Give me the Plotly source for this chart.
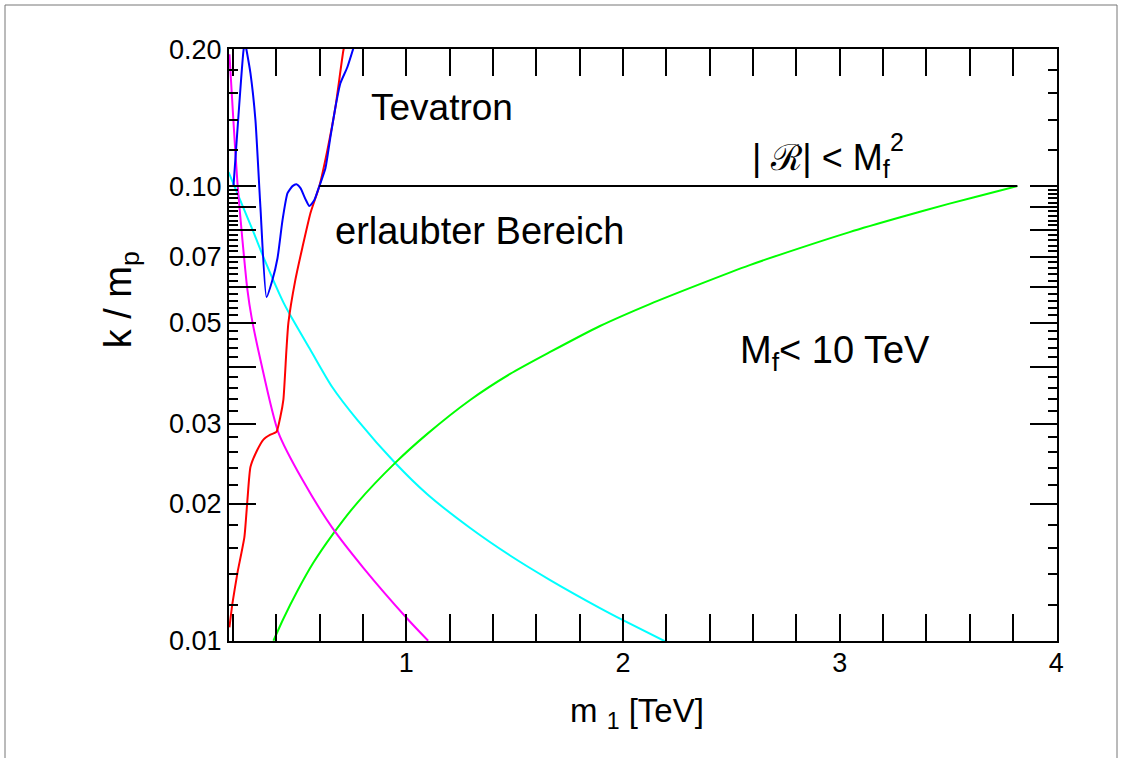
import numpy as np
import plotly.graph_objects as go

# ---------------- data ----------------
cyan_x = [0.18, 0.295, 0.341, 0.433, 0.465, 0.558, 0.659, 0.774, 0.949, 1.097, 1.295, 1.479, 1.664, 1.894, 2.0, 2.198]
cyan_y = [0.1073, 0.0792, 0.0698, 0.0555, 0.0520, 0.0436, 0.0361, 0.0306, 0.0246, 0.0210, 0.0177, 0.0154, 0.0136, 0.0118, 0.0111, 0.00995]

green_x = [0.387, 0.433, 0.498, 0.571, 0.659, 0.774, 0.949, 1.097, 1.295, 1.479, 1.664, 1.894, 2.124, 2.355, 2.585, 2.816, 3.046, 3.276, 3.507, 3.737, 3.82]
green_y = [0.0100, 0.01118, 0.01288, 0.01484, 0.01710, 0.02011, 0.02462, 0.02851, 0.03385, 0.03862, 0.04317, 0.04924, 0.05503, 0.06088, 0.06704, 0.07306, 0.07923, 0.08527, 0.09151, 0.09765, 0.1000]

magenta_x = [0.184, 0.203, 0.221, 0.244, 0.267, 0.286, 0.327, 0.410, 0.521, 0.659, 0.802, 1.005, 1.101]
magenta_y = [0.195, 0.1376, 0.1015, 0.0761, 0.0591, 0.0515, 0.0415, 0.0287, 0.02259, 0.01771, 0.01447, 0.01118, 0.0100]

red_x = [0.184, 0.198, 0.221, 0.253, 0.267, 0.281, 0.313, 0.341, 0.373, 0.401, 0.419, 0.433, 0.447, 0.456, 0.488, 0.521, 0.558, 0.599, 0.636, 0.673, 0.710, 0.719]
red_y = [0.0107, 0.0121, 0.0141, 0.0169, 0.0204, 0.0241, 0.0263, 0.0277, 0.0284, 0.0288, 0.0311, 0.0339, 0.0436, 0.0500, 0.0621, 0.0734, 0.0873, 0.1000, 0.1200, 0.1491, 0.199, 0.207]

blue_x = [0.203, 0.249, 0.256, 0.263, 0.281, 0.304, 0.327, 0.355, 0.382, 0.406, 0.429, 0.452, 0.475, 0.493, 0.512, 0.535, 0.553, 0.576, 0.599, 0.627, 0.650, 0.673, 0.696, 0.728, 0.756]
blue_y = [0.1005, 0.199, 0.207, 0.199, 0.1772, 0.1397, 0.0899, 0.0570, 0.0621, 0.0695, 0.0842, 0.0965, 0.1000, 0.1010, 0.0990, 0.0936, 0.0904, 0.0932, 0.1000, 0.1095, 0.1282, 0.1491, 0.1684, 0.1826, 0.2011]

black_x = [0.599, 3.82]
black_y = [0.1, 0.1]

# tick labels
x_major = [1, 2, 3, 4]
y_labeled = [0.01, 0.02, 0.03, 0.05, 0.07, 0.10, 0.20]
y_labeled_text = ["0.01", "0.02", "0.03", "0.05", "0.07", "0.10", "0.20"]
y_long_unlabeled = [0.04, 0.06, 0.08, 0.09]

FONT = "Liberation Sans, Arial, Helvetica, sans-serif"

x_minor = [round(v, 2) for v in np.arange(0.2, 4.0, 0.2) if abs(v - round(v)) > 1e-6]
y_minor = [round(v, 3) for v in np.arange(0.012, 0.1, 0.002) if abs(v * 100 - round(v * 100)) > 1e-6]
y_minor += [0.12, 0.14, 0.16, 0.18]

fig = go.Figure()
for xs, ys, col, sm in [(cyan_x, cyan_y, "#00ffff", 0.7),
                        (green_x, green_y, "#00ff00", 0.7),
                        (magenta_x, magenta_y, "#ff00ff", 0.7),
                        (red_x, red_y, "#ff0000", 0.5),
                        (blue_x, blue_y, "#0000ff", 0.5)]:
    fig.add_trace(go.Scatter(x=xs, y=ys, mode="lines",
                             line=dict(color=col, width=2, shape="spline", smoothing=sm),
                             showlegend=False, hoverinfo="skip"))
fig.add_trace(go.Scatter(x=black_x, y=black_y, mode="lines", yaxis="y2",
                         line=dict(color="#000000", width=2),
                         showlegend=False, hoverinfo="skip"))

yr = [np.log10(0.01) - 0.0006, np.log10(0.2) + 0.0006]
tickstyle = dict(ticks="inside", ticklen=27, tickwidth=1.5, tickcolor="black")
minorstyle = dict(tickmode="array", ticks="inside", ticklen=9, tickwidth=1.5,
                  tickcolor="black", showgrid=False)

fig.update_layout(
    xaxis=dict(range=[0.182, 4.003], showgrid=False, zeroline=False,
               showline=True, linecolor="black", linewidth=2, mirror="allticks",
               tickmode="array", tickvals=x_major, ticktext=[str(v) for v in x_major],
               tickfont=dict(family=FONT, size=27, color="black"), ticklabelstandoff=-3,
               minor=dict(tickvals=x_minor, **minorstyle), **tickstyle),
    yaxis=dict(type="log", range=yr, showgrid=False, zeroline=False,
               showline=True, linecolor="black", linewidth=2, mirror="allticks",
               tickmode="array", tickvals=y_labeled, ticktext=y_labeled_text,
               tickfont=dict(family=FONT, size=27, color="black"), ticklabelstandoff=0,
               minor=dict(tickvals=y_minor, **minorstyle), **tickstyle),
    yaxis2=dict(type="log", range=yr, overlaying="y", side="left", anchor="x",
                showgrid=False, zeroline=False, showline=False, mirror="allticks",
                tickmode="array", tickvals=y_long_unlabeled, showticklabels=False,
                **tickstyle),
)

ann = [
    dict(text="Tevatron", x=0.257, y=0.901, size=37),
    dict(text="erlaubter Bereich", x=0.302, y=0.693, size=38),
]
for a in ann:
    fig.add_annotation(text=a["text"], x=a["x"], y=a["y"], xref="paper", yref="paper",
                       xanchor="center", yanchor="middle", showarrow=False,
                       font=dict(family=FONT, size=a["size"], color="black"))

fig.add_annotation(text="| ℛ| < M<sub>f</sub>", x=0.629, y=0.8125, xref="paper", yref="paper",
                   xanchor="left", yanchor="middle", showarrow=False,
                   font=dict(family=FONT, size=36, color="black"))
fig.add_annotation(text="2", x=(897 - 229) / 828, y=(641 - 142) / 592, xref="paper", yref="paper",
                   xanchor="center", yanchor="middle", showarrow=False,
                   font=dict(family=FONT, size=25, color="black"))
fig.add_annotation(text="M<sub>f</sub>< 10 TeV", x=0.615, y=0.486, xref="paper", yref="paper",
                   xanchor="left", yanchor="middle", showarrow=False,
                   font=dict(family=FONT, size=38, color="black"))

# axis titles
fig.add_annotation(text="m <sub>1</sub> [TeV]", x=0.409, y=-0.1208, xref="paper", yref="paper",
                   xanchor="left", yanchor="middle", showarrow=False,
                   font=dict(family=FONT, size=33, color="black"))
fig.add_annotation(text="k / m<sub>p</sub>", x=-0.13, y=0.576, xref="paper", yref="paper",
                   xanchor="center", yanchor="middle", showarrow=False, textangle=-90,
                   font=dict(family=FONT, size=38, color="black"))

# outer canvas frame
fig.add_shape(type="rect", xref="paper", yref="paper",
              x0=(5 - 229) / 828, x1=(1117 - 229) / 828, y0=(641 - 780) / 592, y1=(641 - 5) / 592,
              line=dict(color="#777777", width=1), layer="below")

fig.update_layout(width=1123, height=758, margin=dict(l=229, r=66, t=49, b=117),
                  plot_bgcolor="white", paper_bgcolor="white", showlegend=False)

fig.write_html("out.html")
